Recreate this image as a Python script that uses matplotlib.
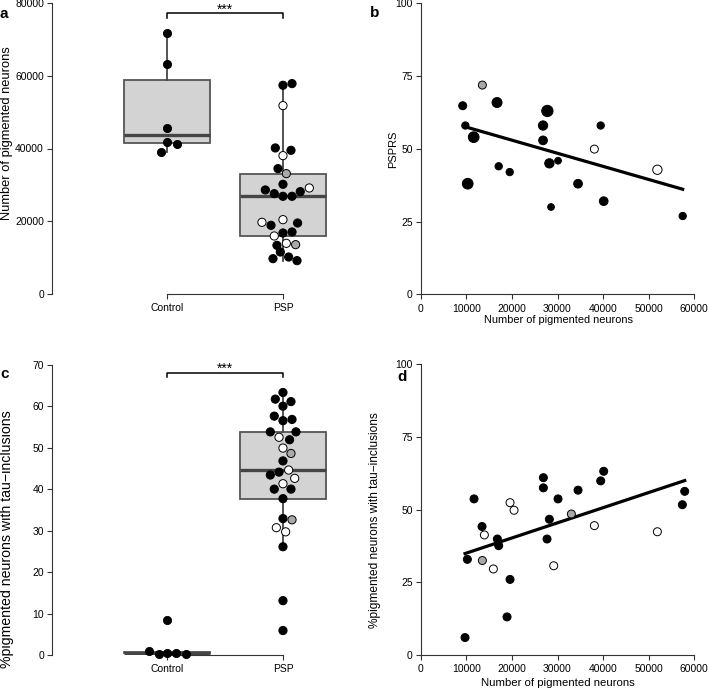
import matplotlib
matplotlib.use("Agg")
import matplotlib.pyplot as plt
import numpy as np

plt.rcParams['font.family'] = ['Liberation Sans', 'DejaVu Sans']

# ---------------- data ----------------
groups = ["Control", "PSP"]

# Panel a: number of pigmented neurons
a_control = [71800, 63200, 45700, 41700, 41300, 39100]
a_control_jit = [0, 0, 0, 0, 0.083, -0.049]
a_psp = [57380, 57840, 51790, 40150, 39500, 38040, 34460, 33090, 30160, 29150,
         28600, 28140, 27590, 26860, 26860, 19710, 20440, 18880, 19520, 16770,
         17050, 15950, 13380, 13930, 13570, 11550, 9720, 10170, 9170]
a_psp_type = ["k", "k", "w", "k", "k", "w", "k", "g", "k", "w",
              "k", "k", "k", "k", "k", "w", "w", "k", "k", "k",
              "k", "w", "k", "w", "g", "k", "k", "k", "k"]
a_psp_jit = [0, 0.078, 0, -0.066, 0.069, 0, -0.043, 0.029, 0, 0.227,
             -0.152, 0.149, -0.075, 0, 0.078, -0.181, 0, -0.103, 0.126, 0,
             0.078, -0.075, -0.052, 0.029, 0.109, -0.023, -0.086, 0.049, 0.121]

# Panel c: % pigmented neurons with tau inclusions
c_control = [8.4, 0.9, 0.35, 0.45, 0.45, 0.3]
c_control_jit = [0, -0.155, -0.072, 0, 0.080, 0.161]
c_psp = [63.3, 61.7, 61.1, 60.0, 57.6, 56.5, 56.8, 53.8, 53.8, 52.5,
         51.9, 49.9, 48.6, 46.8, 44.6, 43.4, 44.1, 42.6, 41.3, 40.0,
         40.0, 37.7, 32.9, 32.6, 30.7, 29.7, 26.1, 13.1, 5.9]
c_psp_type = ["k", "k", "k", "k", "k", "k", "k", "k", "k", "w",
              "k", "w", "g", "k", "w", "k", "k", "w", "w", "k",
              "k", "k", "k", "g", "w", "w", "k", "k", "k"]
c_psp_jit = [0, -0.066, 0.069, 0, -0.075, 0, 0.078, -0.109, 0.112, -0.034,
             0.057, 0, 0.069, 0, 0.049, -0.109, -0.034, 0.101, 0, -0.075,
             0.069, 0, 0, 0.078, -0.057, 0.023, 0, 0, 0]

# Panel b: PSPRS vs number of pigmented neurons (marker size = third variable)
b_neurons = [9211, 9795, 11623, 10307, 13523, 16740, 17105, 19518, 27778, 26827,
             26827, 28216, 30117, 28582, 34503, 39474, 40132, 38085, 51901, 57456]
b_psprs = [64.8, 58.0, 54.0, 38.0, 71.9, 65.9, 44.0, 42.0, 63.0, 58.0,
           52.9, 45.0, 45.9, 30.0, 38.0, 58.0, 32.0, 49.9, 42.8, 26.9]
b_type = ["k", "k", "k", "k", "g", "k", "k", "k", "k", "k",
          "k", "k", "k", "k", "k", "k", "k", "w", "w", "k"]
b_weight = [8.0, 7.3, 10.7, 10.7, 8.0, 10.0, 7.3, 7.3, 11.3, 9.3,
            8.7, 9.3, 6.7, 6.7, 8.7, 7.3, 8.7, 8.0, 9.3, 7.3]
b_fit_x = [9700, 57456]
b_fit_y = [57.6, 36.1]

# Panel d: % tau inclusions vs number of pigmented neurons
d_neurons = [9722, 10234, 11696, 13450, 13523, 13962, 15936, 16813, 17105, 18933,
             19591, 19591, 20468, 26900, 26900, 27705, 28216, 29166, 30117, 33041,
             34503, 38085, 39474, 40132, 51901, 57383, 57895]
d_tau = [6.0, 32.9, 53.7, 44.2, 32.5, 41.3, 29.6, 39.9, 37.6, 13.1,
         26.0, 52.4, 49.8, 61.0, 57.5, 39.9, 46.7, 30.7, 53.7, 48.5,
         56.7, 44.5, 59.9, 63.2, 42.4, 51.7, 56.3]
d_type = ["k", "k", "k", "k", "g", "w", "w", "k", "k", "k",
          "k", "w", "w", "k", "k", "k", "k", "w", "k", "g",
          "k", "w", "k", "k", "w", "k", "k"]
d_fit_x = [9722, 57895]
d_fit_y = [34.9, 60.0]

# ---------------- style ----------------
FILL = {"k": "black", "w": "white", "g": "#a9a9a9"}
AXC = "#333333"
W, H = 709, 689
fig = plt.figure(figsize=(W / 100, H / 100), dpi=100)


def px_axes(left, right, top, bottom):
    return fig.add_axes([left / W, 1 - bottom / H, (right - left) / W, (bottom - top) / H])


def style_axes(ax):
    for s in ["top", "right"]:
        ax.spines[s].set_visible(False)
    for s in ["left", "bottom"]:
        ax.spines[s].set_color(AXC)
        ax.spines[s].set_linewidth(0.8)
    ax.tick_params(direction="out", length=3.8, width=0.8, color=AXC,
                   labelsize=7.5, labelcolor="black")
    ax.tick_params(axis="y", pad=2)
    ax.tick_params(axis="x", pad=3)


def set_ylab(ax, text, size, x, y):
    ax.set_ylabel(text, fontsize=size, va="center")
    ax.yaxis.set_label_coords(x, y)


def set_xlab(ax, text, size, x, y):
    ax.set_xlabel(text, fontsize=size, va="center")
    ax.xaxis.set_label_coords(x, y)


def diam_to_s(d):
    return (d * 0.72) ** 2


def box_panel(ax, ctrl, ctrl_jit, psp, psp_jit, psp_type, ymax, yticks):
    bp = ax.boxplot([ctrl, psp], positions=[0, 1], widths=0.74, patch_artist=True,
                    showfliers=False, showcaps=False, whis=1.5, zorder=1)
    for b in bp["boxes"]:
        b.set_facecolor("#d3d3d3")
        b.set_edgecolor("#555555")
        b.set_linewidth(1.3)
    for m in bp["medians"]:
        m.set_color("#454545")
        m.set_linewidth(2.4)
    for w in bp["whiskers"]:
        w.set_color("#454545")
        w.set_linewidth(1.3)
    ax.scatter(np.array(ctrl_jit), ctrl, s=diam_to_s(8.2), c="black",
               edgecolors="black", linewidths=0.6, zorder=3, clip_on=False)
    ax.scatter(1 + np.array(psp_jit), psp, s=diam_to_s(8.2),
               c=[FILL[t] for t in psp_type], edgecolors="black",
               linewidths=0.7, zorder=3, clip_on=False)
    ax.set_xlim(-0.99, 1.5)
    ax.set_ylim(0, ymax)
    ax.set_yticks(yticks)
    ax.set_xticks([0, 1])
    ax.set_xticklabels(groups, fontsize=8.2)
    ax.spines["bottom"].set_bounds(0, 1)
    style_axes(ax)


# Panel a
ax_a = px_axes(52, 341, 3, 294)
box_panel(ax_a, a_control, a_control_jit, a_psp, a_psp_jit, a_psp_type,
          80000, [0, 20000, 40000, 60000, 80000])
set_ylab(ax_a, "Number of pigmented neurons", 9.3, -0.155, 0.553)
ax_a.plot([0, 0, 1, 1], [75800, 77200, 77200, 75800], color="black", lw=1.1, clip_on=False)
ax_a.text(0.5, 77100, "***", ha="center", va="baseline", fontsize=10)

# Panel c
ax_c = px_axes(52, 341, 364.7, 655)
box_panel(ax_c, c_control, c_control_jit, c_psp, c_psp_jit, c_psp_type,
          70, [0, 10, 20, 30, 40, 50, 60, 70])
set_ylab(ax_c, "%pigmented neurons with tau\u2212inclusions", 10.2, -0.155, 0.40)
ax_c.plot([0, 0, 1, 1], [67.1, 68.1, 68.1, 67.1], color="black", lw=1.1, clip_on=False)
ax_c.text(0.5, 68.0, "***", ha="center", va="baseline", fontsize=10)

# Panel b
ax_b = px_axes(420.7, 694.3, 3.3, 294.3)
ax_b.scatter(b_neurons, b_psprs, s=[diam_to_s(d) for d in b_weight],
             c=[FILL[t] for t in b_type], edgecolors="black", linewidths=0.7,
             zorder=3, clip_on=False)
ax_b.plot(b_fit_x, b_fit_y, color="black", lw=2.3, zorder=2)
ax_b.set_xlim(0, 60000)
ax_b.set_ylim(0, 100)
ax_b.set_xticks(np.arange(0, 60001, 10000))
ax_b.set_yticks([0, 25, 50, 75, 100])
style_axes(ax_b)
set_xlab(ax_b, "Number of pigmented neurons", 7.9, 0.502, -0.088)
set_ylab(ax_b, "PSPRS", 7.9, -0.101, 0.499)

# Panel d
ax_d = px_axes(420.7, 694.3, 364.3, 655)
ax_d.scatter(d_neurons, d_tau, s=diam_to_s(8.0), c=[FILL[t] for t in d_type],
             edgecolors="black", linewidths=0.7, zorder=3, clip_on=False)
ax_d.plot(d_fit_x, d_fit_y, color="black", lw=2.3, zorder=2)
ax_d.set_xlim(0, 60000)
ax_d.set_ylim(0, 100)
ax_d.set_xticks(np.arange(0, 60001, 10000))
ax_d.set_yticks([0, 25, 50, 75, 100])
style_axes(ax_d)
set_xlab(ax_d, "Number of pigmented neurons", 8.2, 0.502, -0.096)
set_ylab(ax_d, "%pigmented neurons with tau\u2212inclusions", 8.6, -0.167, 0.464)

# panel letters
for lab, x, y in [("a", 0, 18), ("b", 370, 17), ("c", 0, 378), ("d", 397, 381)]:
    fig.text(x / W, 1 - y / H, lab, fontsize=11, fontweight="bold", ha="left", va="baseline")

fig.savefig("out.png", dpi=100)
